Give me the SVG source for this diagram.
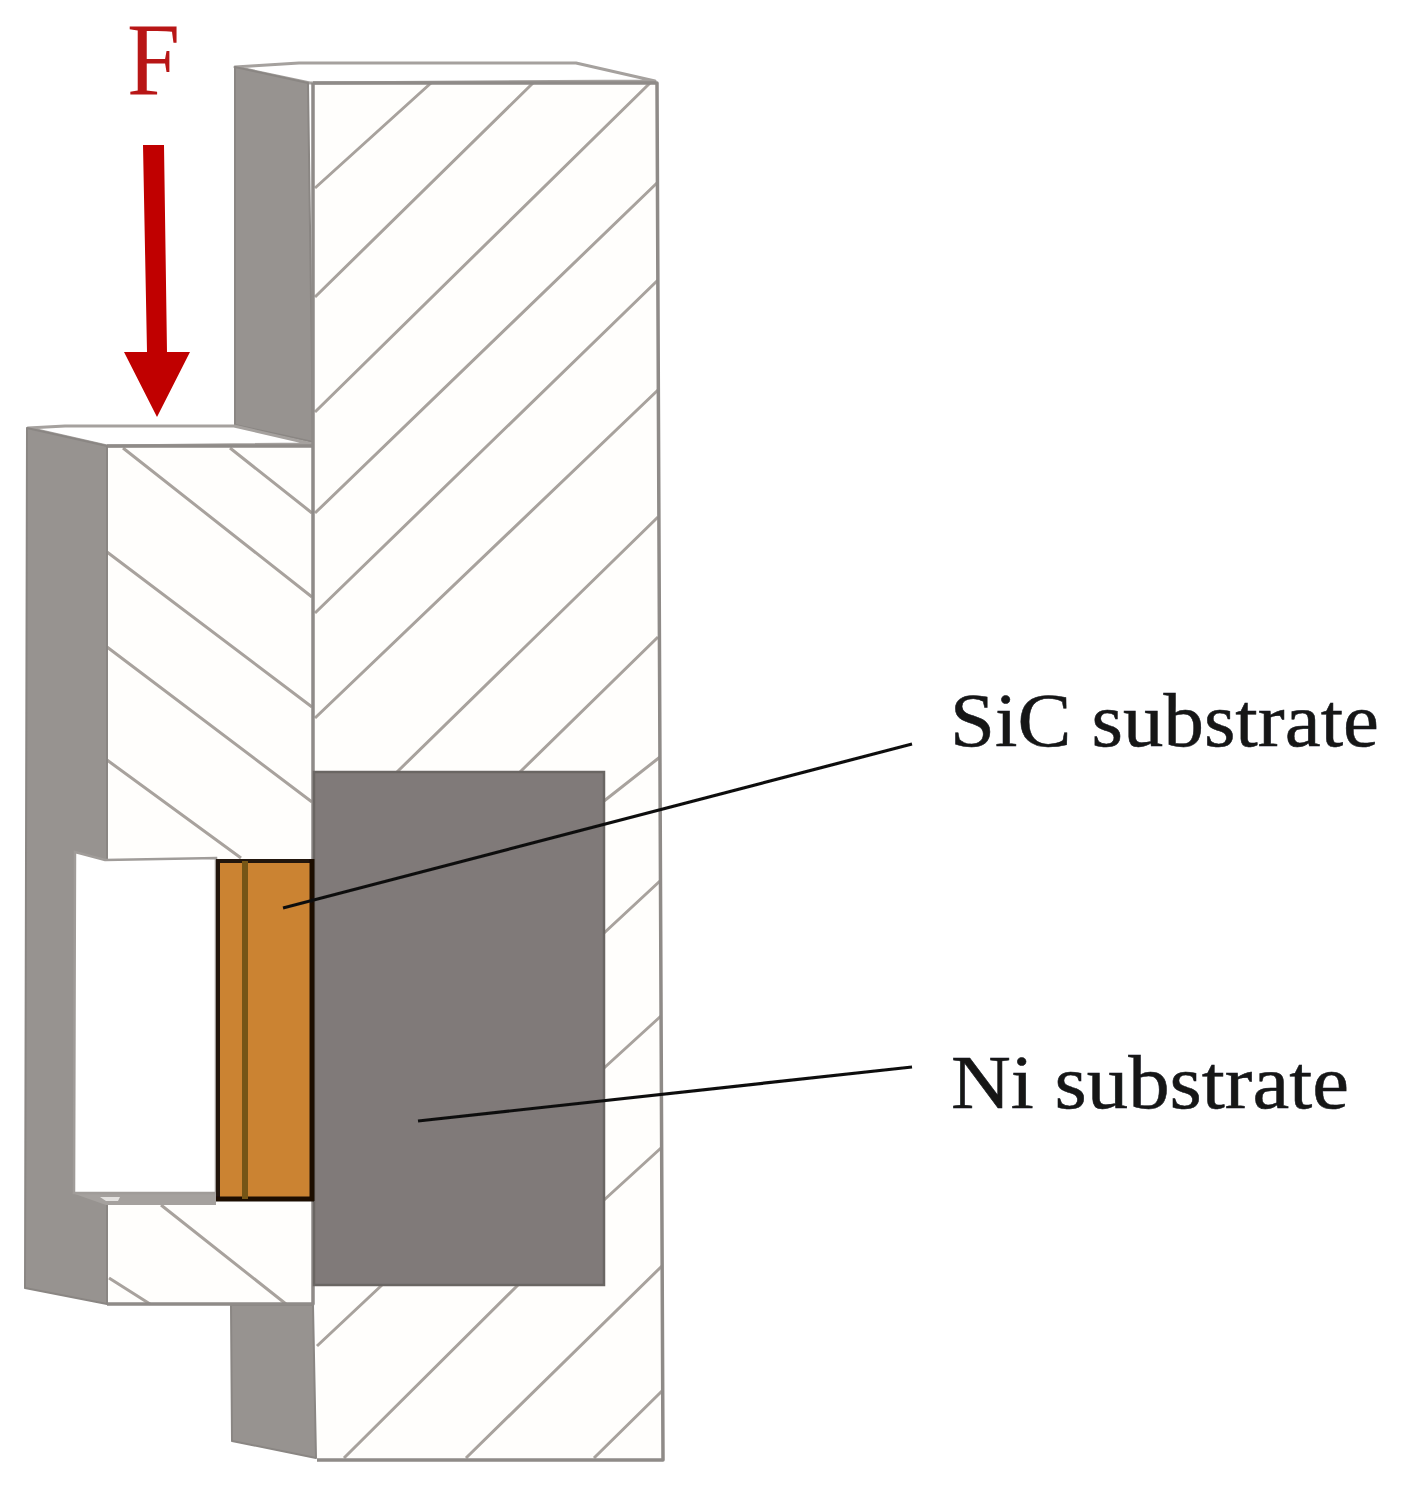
<svg xmlns="http://www.w3.org/2000/svg" width="1412" height="1488" viewBox="0 0 1412 1488">
<style>
.edge{fill:none;stroke:#8f8b88;stroke-width:3.5;stroke-linejoin:round}
.hatch{fill:none;stroke:#a8a29d;stroke-width:3}
.side{fill:#979390;stroke:#8a8683;stroke-width:2;stroke-linejoin:round}
.face{fill:#fff;stroke:#a5a19e;stroke-width:3;stroke-linejoin:round}
.lead{fill:none;stroke:#111;stroke-width:3.2}
.label{font-family:"Liberation Serif","Times New Roman",serif;font-size:76px;fill:#141518;stroke:#141518;stroke-width:.5}
</style>
<defs>
<filter id="soft" filterUnits="userSpaceOnUse" x="0" y="0" width="1412" height="1488"><feGaussianBlur stdDeviation="0.7"/></filter>
</defs>
<rect width="1412" height="1488" fill="#fff"/>
<g filter="url(#soft)">
<g id="main-block">
<polygon points="313,83 657,83 663,1460 317,1460" fill="#fffefc"/>
<polygon class="face" points="235,67 299,63 576,63 655,81 310,83"/>
<path class="hatch" d="M431,83L315,188M533,83L315,297M650,83L315,412M658,182L315,513M658,280L315,613M658,390L315,718M658,517L397,772M658,637L520,772M660,757L604,801M660,881L604,933M661,1016L604,1068M661,1148L604,1200M662,1266L466,1458M518,1285L344,1458M382,1285L317,1346M662,1391L594,1458"/>
<path class="edge" d="M313,83L657,83L663,1460L317,1460"/>
<polygon class="side" points="235,67 308,83 313,442 235,425"/>
<polygon class="side" points="231,1305 313,1305 316,1458 232,1441"/>
</g>
<g id="left-block">
<polygon points="107,446 313,446 313,1304 107,1304" fill="#fffefc"/>
<polygon class="face" points="28,428 65,426 234,426 312,444 107,446"/>
<path class="hatch" d="M123,448L312,597M230,448L312,513M107,552L312,707M107,647L312,802M107,760L241,858M161,1205L286,1304M109,1278L150,1304"/>
<path class="edge" d="M107,446L312,446M313,83L313,1304L107,1304"/>
<polygon class="side" points="27,428 107,446 107,1304 25,1288"/>
</g>
<g id="cavity">
<polygon points="72,1193 216,1193 216,1205 106,1205" fill="#a5a19e"/>
<polygon points="100,1197 120,1197 118,1201 106,1201" fill="#e4e2e0"/>
<polygon points="75,852 105,860 216,858 216,1193 74,1193" fill="#fff" stroke="#a09c99" stroke-width="2.5"/>
</g>
<g id="ni-substrate">
<rect x="314" y="772" width="290" height="513" fill="#807a79" stroke="#6b6664" stroke-width="2.5"/>
</g>
<g id="sic-substrate">
<rect x="218" y="861" width="94" height="338" fill="#cb8332" stroke="#20140a" stroke-width="4"/>
<path d="M216,1199H314M312,859V1201" fill="none" stroke="#1a0f06" stroke-width="5"/>
<line x1="245" y1="861" x2="245" y2="1199" stroke="#755414" stroke-width="6"/>
</g>
<g id="connectors">
<line class="lead" x1="912" y1="744" x2="283" y2="908"/>
<line class="lead" x1="912" y1="1067" x2="418" y2="1121"/>
</g>
<g id="force-arrow">
<polygon points="143,145 164,145 167,352 190,352 157,417 124,352 147,352" fill="#c00000"/>
<text x="127" y="94" font-family="'Liberation Serif','Times New Roman',serif" font-size="104" fill="#b81414" textLength="53" lengthAdjust="spacingAndGlyphs">F</text>
</g>
<g id="label-sic"><text class="label" x="950" y="746" textLength="429" lengthAdjust="spacingAndGlyphs">SiC substrate</text></g>
<g id="label-ni"><text class="label" x="951" y="1108" textLength="398" lengthAdjust="spacingAndGlyphs">Ni substrate</text></g>
</g>
</svg>
